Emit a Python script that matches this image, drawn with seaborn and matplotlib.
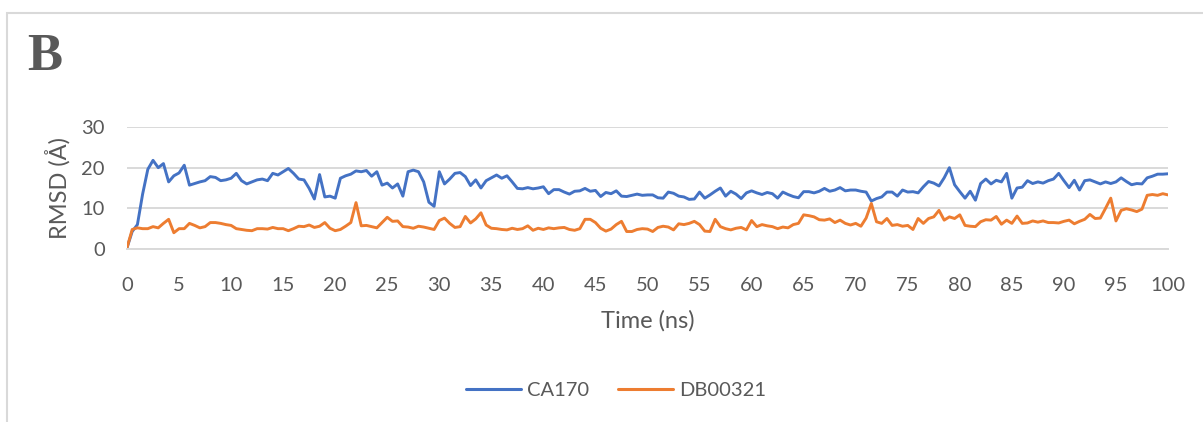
import numpy as np
import pandas as pd
import matplotlib
matplotlib.use("Agg")
import matplotlib.pyplot as plt
from matplotlib.lines import Line2D
from matplotlib.patches import Rectangle
import seaborn as sns

# ---------------- data (0.5 ns spacing) ----------------
time_ns = np.arange(0, 100.5, 0.5)

ca170 = [
    0.3, 4.3, 6.0, 13.5, 19.6, 21.8, 20.0, 21.0, 16.5, 18.0,
    18.7, 20.6, 15.7, 16.1, 16.5, 16.8, 17.8, 17.6, 16.8, 17.0,
    17.4, 18.6, 16.8, 16.0, 16.5, 17.0, 17.2, 16.8, 18.6, 18.2,
    19.0, 19.8, 18.6, 17.2, 17.0, 14.9, 12.3, 18.3, 12.8, 13.0,
    12.5, 17.4, 18.0, 18.4, 19.2, 19.0, 19.3, 17.9, 19.0, 15.7,
    16.2, 15.0, 16.0, 13.0, 19.0, 19.4, 19.0, 16.5, 11.5, 10.5,
    19.0, 16.0, 17.2, 18.6, 18.8, 17.8, 15.6, 17.0, 15.0, 16.8,
    17.5, 18.2, 17.4, 18.0, 16.5, 14.9, 14.8, 15.1, 14.8, 15.0,
    15.3, 13.6, 14.6, 14.6, 14.0, 13.5, 14.2, 14.3, 14.9, 14.2,
    14.4, 12.9, 13.9, 13.6, 14.3, 13.0, 12.9, 13.2, 13.5, 13.2,
    13.3, 13.3, 12.6, 12.5, 14.0, 13.7, 13.0, 12.8, 12.2, 12.3,
    14.0, 12.5, 13.3, 14.2, 15.0, 13.0, 14.2, 13.5, 12.4, 13.8,
    14.3, 13.8, 13.4, 13.9, 13.6, 12.5, 14.0, 13.4, 12.9, 12.6,
    14.1, 14.1, 13.8, 14.2, 14.9, 14.2, 14.5, 15.1, 14.3, 14.5,
    14.5, 14.2, 14.0, 11.8, 12.4, 12.8, 14.0, 14.0, 13.0, 14.5,
    14.0, 14.1, 13.8, 15.3, 16.6, 16.2, 15.5, 17.5, 20.0, 15.8,
    14.1, 12.5, 14.2, 12.0, 16.1, 17.2, 16.0, 16.9, 16.5, 18.6,
    12.5, 15.0, 15.2, 16.8, 16.1, 16.5, 16.2, 16.8, 17.2, 18.6,
    16.8, 15.1, 16.9, 14.5, 16.8, 17.0, 16.5, 16.0, 16.5, 16.1,
    16.5, 17.5, 16.6, 15.8, 16.1, 16.0, 17.5, 17.9, 18.4, 18.4,
    18.5,
]

db00321 = [
    0.3, 4.8, 5.2, 5.0, 5.0, 5.5, 5.2, 6.3, 7.3, 4.0,
    5.0, 5.0, 6.3, 5.8, 5.2, 5.5, 6.5, 6.5, 6.3, 6.0,
    5.8, 5.0, 4.8, 4.6, 4.5, 5.0, 5.0, 4.9, 5.3, 5.0,
    5.0, 4.5, 5.0, 5.6, 5.5, 5.9, 5.3, 5.6, 6.5, 5.1,
    4.5, 4.8, 5.6, 6.5, 11.4, 5.7, 5.8, 5.5, 5.2, 6.5,
    7.8, 6.8, 6.9, 5.5, 5.4, 5.1, 5.6, 5.4, 5.1, 4.8,
    7.0, 7.6, 6.3, 5.3, 5.5, 8.0, 6.4, 7.4, 8.9, 5.9,
    5.1, 5.0, 4.8, 4.7, 5.1, 4.8, 5.0, 5.7, 4.6, 5.1,
    4.8, 5.2, 5.0, 5.2, 5.3, 4.8, 4.6, 5.0, 7.3, 7.3,
    6.5, 5.1, 4.4, 4.9, 6.0, 6.8, 4.3, 4.3, 4.8, 5.0,
    4.9, 4.3, 5.3, 5.6, 5.4, 4.7, 6.2, 6.0, 6.3, 6.8,
    6.0, 4.4, 4.3, 7.3, 5.5, 5.0, 4.7, 5.1, 5.3, 4.7,
    7.0, 5.5, 6.0, 5.7, 5.5, 5.0, 5.4, 5.2, 6.0, 6.3,
    8.4, 8.2, 7.9, 7.2, 7.1, 7.4, 6.5, 7.1, 6.3, 5.9,
    6.3, 5.6, 7.6, 11.2, 6.7, 6.3, 7.5, 5.8, 6.0, 5.6,
    5.8, 4.8, 7.5, 6.3, 7.5, 7.9, 9.5, 7.1, 7.9, 7.5,
    8.4, 5.8, 5.6, 5.5, 6.7, 7.2, 7.1, 8.0, 6.1, 7.1,
    6.3, 8.1, 6.3, 6.4, 6.9, 6.6, 6.9, 6.5, 6.5, 6.4,
    6.8, 7.1, 6.2, 6.8, 7.3, 8.5, 7.5, 7.6, 10.0, 12.5,
    6.9, 9.5, 9.9, 9.6, 9.2, 9.8, 13.2, 13.4, 13.2, 13.6,
    13.3,
]

series_names = ["CA170", "DB00321"]
series_colors = ["#4472C4", "#ED7D31"]
x_ticks = list(range(0, 101, 5))
y_ticks = [0, 10, 20, 30]
x_label = "Time (ns)"
y_label = "RMSD (Å)"
panel_label = "B"

df = pd.concat([
    pd.DataFrame({"Time": time_ns, "RMSD": ca170, "Series": series_names[0]}),
    pd.DataFrame({"Time": time_ns, "RMSD": db00321, "Series": series_names[1]}),
], ignore_index=True)

# ---------------- styling ----------------
sns.set_theme(style="white")
plt.rcParams["font.family"] = ["Lato", "DejaVu Sans"]
text_gray = "#595959"
grid_gray = "#D9D9D9"

W, H = 1203, 422
fig = plt.figure(figsize=(W / 100, H / 100), dpi=100)
fig.patch.set_facecolor("white")

# chart-area border (extends past right & bottom edges in the reference)
fig.patches.append(Rectangle((7 / W, -0.1), 1.2, 1 - 13 / H + 0.1,
                             transform=fig.transFigure, fill=False,
                             edgecolor=grid_gray, linewidth=1.5))

ax = fig.add_axes([127 / W, 1 - 249 / H, (1168 - 127) / W, (249 - 127) / H])

sns.lineplot(data=df, x="Time", y="RMSD", hue="Series", hue_order=series_names,
             palette=series_colors, linewidth=2.1, legend=False, ax=ax,
             estimator=None, sort=False)

ax.set_xlim(0, 100)
ax.set_ylim(0, 30)
ax.set_xticks(x_ticks)
ax.set_yticks(y_ticks)
ax.tick_params(axis="both", length=0, labelsize=14.5, colors=text_gray)
ax.tick_params(axis="y", pad=16)
ax.tick_params(axis="x", pad=20)
ax.yaxis.grid(True, color=grid_gray, linewidth=1.4)
ax.xaxis.grid(False)
ax.set_axisbelow(True)
for s in ["top", "right", "left"]:
    ax.spines[s].set_visible(False)
ax.spines["bottom"].set_color(grid_gray)
ax.spines["bottom"].set_linewidth(1.4)
ax.set_facecolor("none")

ax.set_xlabel(x_label, fontsize=17, color=text_gray, labelpad=12)
ax.set_ylabel(y_label, fontsize=17, color=text_gray, labelpad=8)

fig.text(27 / W, 1 - 57 / H, panel_label, fontsize=38, fontweight="bold",
         family="Liberation Serif", color=text_gray, ha="left", va="center")

handles = [Line2D([0], [0], color=c, lw=2.2) for c in series_colors]
fig.legend(handles, series_names, loc="center", bbox_to_anchor=(616 / W, 1 - 390 / H),
           ncol=2, frameon=False, fontsize=14.5, handlelength=2.75,
           handletextpad=0.3, columnspacing=1.4, labelcolor=text_gray)

fig.savefig("out.png", dpi=100, facecolor="white")
